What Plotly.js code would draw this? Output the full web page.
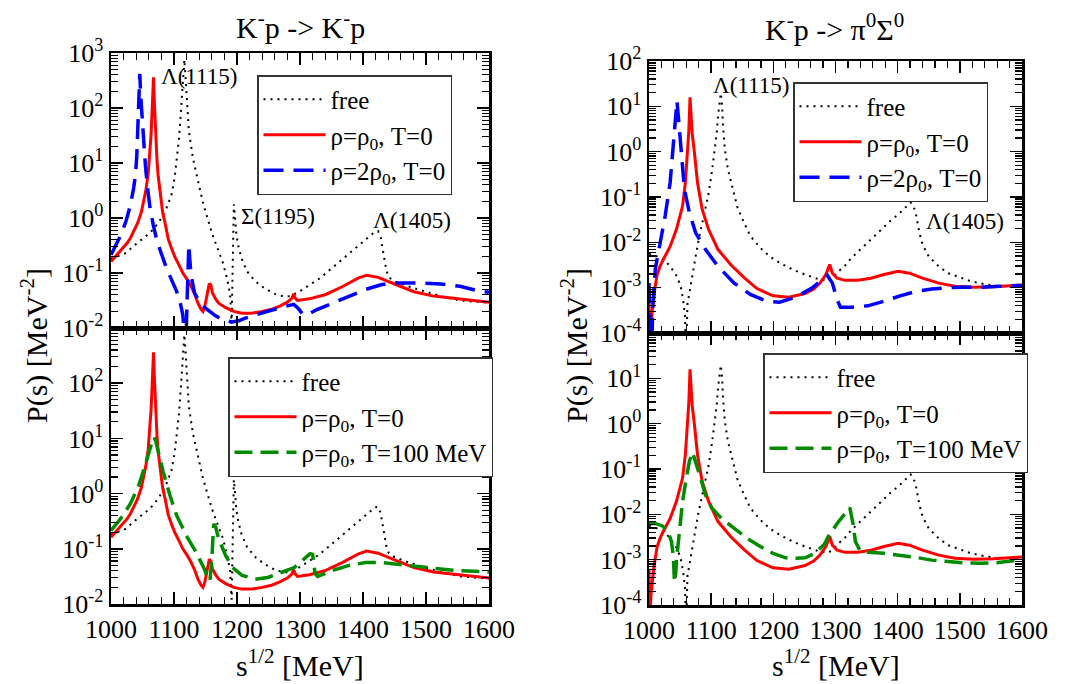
<!DOCTYPE html>
<html>
<head>
<meta charset="utf-8">
<script src="https://cdn.plot.ly/plotly-3.0.1.min.js"></script>
<style>
  html, body { margin: 0; padding: 0; background: #ffffff; }
  #chart { width: 1071px; height: 684px; }
</style>
</head>
<body>
<div id="chart"></div>
<script>
// ---------- K-p -> K-p  (left column) ----------
// free amplitude
const freeKK_s = [1000,1010,1023,1039,1052,1062,1073,1080,1088,1096,1101,1105,1108,1110.6,1113,1115,1116.5,1118.4,1120.5,1123.6,1130,1138,1145.5,1153,1161,1169,1177,1184,1189,1191.5,1193.5,1195,1197,1199,1202,1207,1216,1229,1244,1260,1275,1285,1300,1315.5,1331,1346.6,1362,1377.7,1393,1409,1419,1424,1428,1431,1434,1437,1441,1450,1471,1497,1523,1554,1585,1600];
const freeKK_P = [0.182,0.204,0.229,0.331,0.437,0.537,0.759,1.0,1.51,2.63,5.37,12.3,28.2,75.9,200,447,759,355,132,38,12.3,4.68,2.0,1.0,0.501,0.282,0.162,0.0813,0.0407,0.012,0.126,1.78,1.0,0.5,0.316,0.186,0.107,0.0708,0.0525,0.0417,0.0372,0.038,0.0468,0.0603,0.0794,0.112,0.158,0.224,0.316,0.447,0.562,0.575,0.447,0.282,0.178,0.112,0.0832,0.0708,0.0575,0.0468,0.038,0.0316,0.0295,0.0288];

// rho = rho0, T = 0
const rho1KK_s = [1000,1015.6,1026,1031,1042,1048,1055,1059,1061,1063.5,1065,1066.5,1067.5,1068.5,1070,1071.5,1073,1075,1078,1082,1086,1091,1096,1101,1109,1114,1121,1127,1133,1138,1143,1146,1149,1152,1156,1158.5,1161,1166,1171,1182,1195,1208,1223,1240,1255,1268,1280,1287,1290,1292,1296,1315,1341,1367,1393,1406,1424,1450,1481,1512,1543,1570,1600];
const rho1KK_P = [0.162,0.263,0.355,0.437,0.794,1.26,3.02,6.31,12.3,31.6,75.9,178,363,158,56.2,22.4,11.2,5.62,2.82,1.26,0.794,0.407,0.282,0.2,0.132,0.1,0.0759,0.0575,0.0407,0.0282,0.0219,0.02,0.0251,0.0398,0.0646,0.0603,0.0437,0.0339,0.0282,0.0234,0.02,0.0186,0.0186,0.02,0.0219,0.0251,0.0295,0.0347,0.0417,0.0355,0.0316,0.0339,0.0407,0.0562,0.0813,0.0912,0.0832,0.0631,0.0457,0.038,0.0347,0.0316,0.0295];

// rho = 2 rho0, T = 0
const rho2KK_s = [1000,1008,1016,1024,1031,1036,1039,1041,1042.6,1044.3,1045.7,1047.3,1049,1052,1054.5,1058,1062,1067,1073,1080,1088,1096,1104,1110,1114,1117,1118.5,1120.5,1122.5,1123.6,1125,1127,1132.5,1140,1148,1156,1166,1177,1192,1203,1213,1230,1244,1260,1275,1290,1297,1305,1315,1326,1352,1378,1404,1430,1455,1492,1523,1554,1585,1600];
const rho2KK_P = [0.214,0.316,0.501,0.891,1.74,3.55,6.17,14.1,38,126,417,158,75.9,25.1,9.33,3.55,1.51,0.759,0.38,0.224,0.123,0.0759,0.0468,0.0282,0.0174,0.0063,0.0025,0.0251,0.126,0.331,0.178,0.0933,0.0437,0.0302,0.024,0.02,0.0166,0.0141,0.0129,0.0135,0.0151,0.0174,0.0195,0.0219,0.0245,0.0269,0.0229,0.0174,0.0182,0.0214,0.0282,0.038,0.0501,0.0617,0.0661,0.0661,0.0631,0.0575,0.0468,0.0447];

// rho = rho0, T = 100 MeV
const hotKK_s = [1000,1015.6,1031,1044,1054.5,1062,1066,1068.5,1071,1075,1083,1093.5,1104,1119.5,1135,1148,1154,1157,1160,1163,1166,1171,1182,1192,1208,1229,1249,1270,1291,1305,1316,1320,1324,1328,1340,1352,1378,1404,1430,1455,1481,1512,1543,1585,1600];
const hotKK_P = [0.214,0.355,0.661,1.41,3.31,6.61,9.33,10.5,8.91,5.75,2.45,0.933,0.407,0.174,0.0871,0.0437,0.0282,0.0263,0.0631,0.282,0.251,0.151,0.0759,0.0468,0.0331,0.0282,0.0302,0.0372,0.0457,0.0631,0.0813,0.0794,0.0355,0.0316,0.0363,0.0407,0.0501,0.0562,0.0562,0.0525,0.0479,0.0437,0.0407,0.0389,0.038];

// ---------- K-p -> pi0 Sigma0  (right column) ----------
const freePS_s = [1000,1013,1026,1036,1045,1051,1055,1058,1059.5,1061,1062,1066,1070,1075,1080,1085.5,1090.7,1096,1101,1105,1109,1111,1114,1115.5,1117.6,1119,1122,1127,1135,1142.5,1153,1163,1179,1194,1210,1231,1251,1272,1288,1295,1305,1315.5,1326,1341,1357,1372.5,1388,1403.6,1415,1421,1426,1430,1435,1440,1450,1466,1481,1497,1518,1543,1564,1600];
const freePS_P = [5.62e-3,4.9e-3,3.98e-3,2.69e-3,1.78e-3,1.07e-3,5.37e-4,2.34e-4,3.2e-5,2.51e-4,4.57e-4,9.12e-4,2.09e-3,4.9e-3,1.15e-2,2.45e-2,5.37e-2,0.123,0.347,0.955,2.63,6.17,12.3,19.5,10.2,3.72,1.12,0.407,0.148,5.75e-2,2.69e-2,1.38e-2,7.59e-3,4.9e-3,3.55e-3,2.51e-3,1.95e-3,1.55e-3,1.41e-3,1.66e-3,2.29e-3,3.09e-3,4.57e-3,7.24e-3,1.15e-2,1.91e-2,2.95e-2,4.47e-2,6.31e-2,7.59e-2,6.03e-2,3.8e-2,1.62e-2,8.91e-3,4.9e-3,2.95e-3,2.09e-3,1.74e-3,1.38e-3,1.17e-3,1.07e-3,1.07e-3];

const rho1PS_s = [1000,1001.5,1003,1005,1008,1013,1018,1023,1034,1044,1050,1054,1058.5,1062,1064,1066,1068,1069.5,1072.5,1075,1078,1082,1085.5,1096,1111,1132,1153,1173.6,1199.5,1225,1251,1265,1275,1284.5,1290.7,1295,1302.6,1315.5,1336,1357,1378,1401,1419,1440,1466,1492,1523,1554,1582,1600];
const rho1PS_P = [6.31e-4,3.2e-5,1.58e-4,3.24e-4,7.08e-4,1.91e-3,3.02e-3,4.17e-3,8.13e-3,1.91e-2,3.98e-2,6.31e-2,0.209,0.813,2.82,15.8,5.62,2.51,1.12,0.447,0.209,0.1,5.37e-2,1.91e-2,6.92e-3,3.16e-3,1.66e-3,9.55e-4,6.61e-4,6.17e-4,7.41e-4,9.33e-4,1.26e-3,1.95e-3,3.24e-3,2.09e-3,1.62e-3,1.45e-3,1.45e-3,1.62e-3,1.95e-3,2.29e-3,2.09e-3,1.62e-3,1.26e-3,1.07e-3,1.02e-3,1.05e-3,1.1e-3,1.15e-3];

const rho2PS_s = [1000,1002,1004,1006,1008,1010,1014,1018,1026,1034,1039,1042.5,1045,1048,1052,1057,1065,1075,1091,1111,1137,1163,1189,1210,1236,1262,1282,1287,1295,1302.6,1308,1326,1352,1378,1404,1430,1455,1481,1507,1533,1564,1600];
const rho2PS_P = [1.26e-3,2.51e-4,3.2e-5,3.16e-4,1e-3,2.51e-3,5.01e-3,9.77e-3,3.8e-2,0.209,1.12,4.37,13.2,4.37,0.955,0.148,4.47e-2,1.62e-2,6.92e-3,2.95e-3,1.26e-3,7.08e-4,5.01e-4,4.79e-4,6.17e-4,9.77e-4,1.62e-3,1.86e-3,1.26e-3,5.37e-4,3.72e-4,3.72e-4,3.98e-4,5.01e-4,6.61e-4,8.32e-4,9.33e-4,1e-3,1.02e-3,1.02e-3,1.07e-3,1.12e-3];

const hotPS_s = [1000,1010,1021,1031,1036,1039,1041,1043,1044,1049,1054,1060,1065,1070,1075,1083,1090.7,1101,1116.6,1137,1158,1179,1199.5,1220,1236,1251,1267,1282,1290,1305,1315.5,1323,1328.5,1332,1339,1352,1378,1404,1430,1455,1481,1507,1533,1559,1582,1600];
const hotPS_P = [6.31e-3,6.31e-3,5.62e-3,4.17e-3,2.51e-3,1.26e-3,3.16e-4,5.01e-4,9.12e-4,4.9e-3,1.91e-2,6.31e-2,0.148,0.234,0.148,6.31e-2,2.69e-2,1.38e-2,8.13e-3,4.9e-3,2.95e-3,1.95e-3,1.38e-3,1.1e-3,1.07e-3,1.1e-3,1.38e-3,2.19e-3,3.55e-3,6.92e-3,1.07e-2,1.41e-2,5.89e-3,2.51e-3,1.62e-3,1.45e-3,1.38e-3,1.26e-3,1.12e-3,9.77e-4,9.12e-4,8.51e-4,8.32e-4,8.51e-4,9.33e-4,9.77e-4];

// legend labels
const labelFree = 'free';
const labelRho1 = '\u03c1=\u03c1<sub>0</sub>, T=0';
const labelRho2 = '\u03c1=2\u03c1<sub>0</sub>, T=0';
const labelHot  = '\u03c1=\u03c1<sub>0</sub>, T=100 MeV';

// ---------- styling ----------
const SERIF = 'Liberation Serif, Times New Roman, serif';
const lineFree = { color: '#000000', width: 2, dash: '2px,5px' };
const lineRho1 = { color: '#ff0000', width: 3 };
const lineRho2 = { color: '#0000ff', width: 3.5, dash: '20px,10px' };
const lineHot  = { color: '#008b00', width: 3.5, dash: '18px,8px' };

function tr(s, P, name, line, xa, ya, leg) {
  return { type: 'scatter', mode: 'lines', x: s, y: P, name: name, line: line,
           xaxis: xa, yaxis: ya, legend: leg, hoverinfo: 'skip' };
}

const traces = [
  tr(freeKK_s, freeKK_P, labelFree, lineFree, 'x',  'y',  'legend'),
  tr(rho1KK_s, rho1KK_P, labelRho1, lineRho1, 'x',  'y',  'legend'),
  tr(rho2KK_s, rho2KK_P, labelRho2, lineRho2, 'x',  'y',  'legend'),
  tr(freeKK_s, freeKK_P, labelFree, lineFree, 'x2', 'y2', 'legend2'),
  tr(rho1KK_s, rho1KK_P, labelRho1, lineRho1, 'x2', 'y2', 'legend2'),
  tr(hotKK_s,  hotKK_P,  labelHot,  lineHot,  'x2', 'y2', 'legend2'),
  tr(freePS_s, freePS_P, labelFree, lineFree, 'x3', 'y3', 'legend3'),
  tr(rho1PS_s, rho1PS_P, labelRho1, lineRho1, 'x3', 'y3', 'legend3'),
  tr(rho2PS_s, rho2PS_P, labelRho2, lineRho2, 'x3', 'y3', 'legend3'),
  tr(freePS_s, freePS_P, labelFree, lineFree, 'x4', 'y4', 'legend4'),
  tr(rho1PS_s, rho1PS_P, labelRho1, lineRho1, 'x4', 'y4', 'legend4'),
  tr(hotPS_s,  hotPS_P,  labelHot,  lineHot,  'x4', 'y4', 'legend4')
];

const W = 1071, H = 684;
const px = v => v / W;
const py = v => 1 - v / H;

function xAxis(dom, anchor, labels) {
  return {
    domain: dom, anchor: anchor, range: [1000, 1600], type: 'linear',
    tickmode: 'linear', tick0: 1000, dtick: 100,
    ticks: 'inside', ticklen: 12, tickwidth: 1.5, tickcolor: '#000',
    minor: { dtick: 20, ticks: 'inside', ticklen: 7, tickwidth: 1.2, tickcolor: '#000', showgrid: false },
    showline: true, linewidth: 2.5, linecolor: '#000', mirror: 'allticks',
    showgrid: false, zeroline: false, showticklabels: labels,
    tickfont: { family: SERIF, size: 26, color: '#000' }
  };
}

// log axis with a labelled tick per decade from lo to labelHi, unlabelled minor ticks 2..9
function yAxis(dom, anchor, lo, hi, labelHi) {
  const vals = [], text = [], minorVals = [];
  for (let e = lo; e <= hi; e++) {
    if (e <= labelHi) {
      vals.push(Math.pow(10, e));
      text.push('10<sup>' + e + '</sup>');
    }
    if (e < hi) for (let k = 2; k <= 9; k++) minorVals.push(k * Math.pow(10, e));
  }
  return {
    domain: dom, anchor: anchor, type: 'log', range: [lo, hi],
    tickmode: 'array', tickvals: vals, ticktext: text,
    ticks: 'inside', ticklen: 12, tickwidth: 1.5, tickcolor: '#000',
    minor: { tickmode: 'array', tickvals: minorVals, ticks: 'inside', ticklen: 7,
             tickwidth: 1.2, tickcolor: '#000', showgrid: false },
    showline: true, linewidth: 2.5, linecolor: '#000', mirror: 'allticks',
    showgrid: false, zeroline: false,
    tickfont: { family: SERIF, size: 26, color: '#000' }
  };
}

const leftX = [px(111), px(489)];
const rightX = [px(649), px(1022)];

function legendAt(x, y) {
  return {
    x: x, y: y, xref: 'paper', yref: 'paper', xanchor: 'left', yanchor: 'top',
    bgcolor: '#ffffff', bordercolor: '#333333', borderwidth: 1.5,
    font: { family: SERIF, size: 25, color: '#000' },
    itemwidth: 62, tracegroupgap: 0, traceorder: 'normal'
  };
}

function note(text, x, y, xr, yr, size, extra) {
  return Object.assign({ text: text, x: x, y: y, xref: xr, yref: yr, showarrow: false,
    xanchor: 'left', yanchor: 'middle', font: { family: SERIF, size: size, color: '#000' } }, extra || {});
}

const layout = {
  width: W, height: H,
  margin: { l: 0, r: 0, t: 0, b: 0 },
  paper_bgcolor: '#ffffff', plot_bgcolor: '#ffffff',
  showlegend: true,
  xaxis:  xAxis(leftX, 'y', false),
  yaxis:  yAxis([py(328), py(53)], 'x', -2, 3, 3),
  xaxis2: xAxis(leftX, 'y2', true),
  yaxis2: yAxis([py(604), py(328)], 'x2', -2, 3, 2),
  xaxis3: xAxis(rightX, 'y3', false),
  yaxis3: yAxis([py(333), py(61)], 'x3', -4, 2, 2),
  xaxis4: xAxis(rightX, 'y4', true),
  yaxis4: yAxis([py(605), py(333)], 'x4', -4, 2, 1),
  legend:  legendAt(px(257), py(75)),
  legend2: legendAt(px(228), py(357)),
  legend3: legendAt(px(793), py(82)),
  legend4: legendAt(px(763), py(353)),
  annotations: [
    // panel titles
    note('K<sup>-</sup>p -> K<sup>-</sup>p', px(300), py(25), 'paper', 'paper', 30, { xanchor: 'center' }),
    note('K<sup>-</sup>p -> \u03c0<sup>0</sup>\u03a3<sup>0</sup>', px(834), py(27), 'paper', 'paper', 30, { xanchor: 'center' }),
    // axis titles
    note('P(s) [MeV<sup>-2</sup>]', px(34), py(346), 'paper', 'paper', 30, { xanchor: 'center', textangle: -90 }),
    note('P(s) [MeV<sup>-2</sup>]', px(574), py(346), 'paper', 'paper', 30, { xanchor: 'center', textangle: -90 }),
    note('s<sup>1/2</sup> [MeV]', px(300), py(663), 'paper', 'paper', 30, { xanchor: 'center' }),
    note('s<sup>1/2</sup> [MeV]', px(836), py(663), 'paper', 'paper', 30, { xanchor: 'center' }),
    // resonance labels
    note('\u039b(1115)', 1076, 2.58, 'x', 'y', 23),
    note('\u03a3(1195)', 1203, 0.03, 'x', 'y', 23),
    note('\u039b(1405)', 1413, -0.05, 'x', 'y', 23),
    note('\u039b(1115)', 1099, 1.47, 'x3', 'y3', 23),
    note('\u039b(1405)', 1443, -1.53, 'x3', 'y3', 23)
  ]
};

Plotly.newPlot('chart', traces, layout, { displayModeBar: false, staticPlot: true });
</script>
</body>
</html>
